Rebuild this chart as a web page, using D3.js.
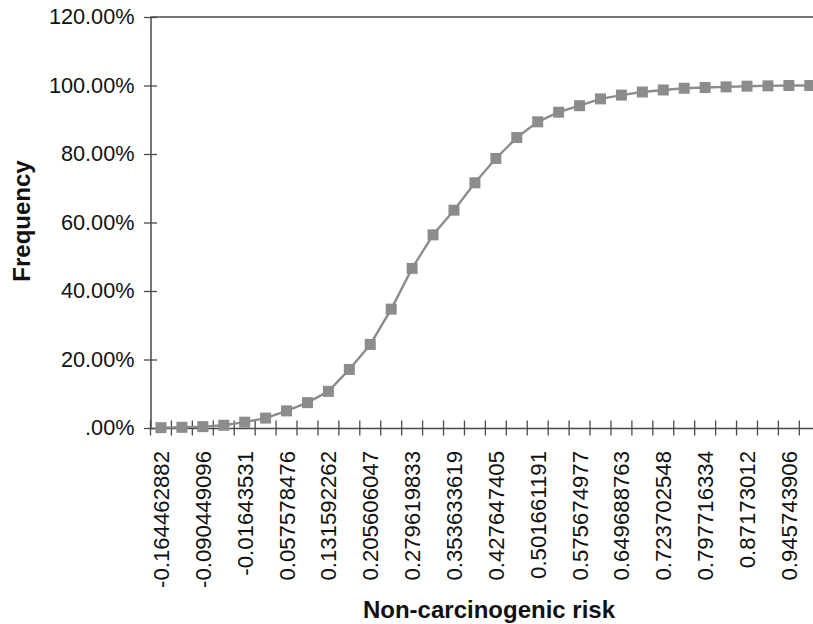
<!DOCTYPE html>
<html>
<head>
<meta charset="utf-8">
<script src="https://cdn.jsdelivr.net/npm/d3@7"></script>
<style>
  html, body { margin: 0; padding: 0; background: #fff; overflow: hidden; }
  svg { display: block; }
  text { font-family: "Liberation Sans", Arial, sans-serif; fill: #111; }
</style>
</head>
<body>
<svg id="chart" width="813" height="624"></svg>
<script>
// Category labels (risk values), one per point
const categories = [
  "-0.164462882", "-0.127455989", "-0.090449096", "-0.053442203",
  "-0.01643531", "0.020571583", "0.057578476", "0.094585369",
  "0.131592262", "0.168599155", "0.205606047", "0.24261294",
  "0.279619833", "0.316626726", "0.353633619", "0.390640512",
  "0.427647405", "0.464654298", "0.501661191", "0.538668084",
  "0.575674977", "0.61268187", "0.649688763", "0.686695656",
  "0.723702548", "0.760709441", "0.797716334", "0.834723227",
  "0.87173012", "0.908737013", "0.945743906", "0.982750799"
];
// Cumulative frequency (%)
const frequency = [
  0.1, 0.2, 0.4, 0.8, 1.7, 2.9, 5.0, 7.4, 10.7, 17.1, 24.4, 34.7,
  46.6, 56.4, 63.6, 71.6, 78.7, 84.8, 89.4, 92.2, 94.1, 96.1, 97.2, 98.1,
  98.7, 99.2, 99.4, 99.6, 99.8, 99.9, 100.0, 100.0
];
// Only every other category is labelled
const labelledCategories = categories.filter((d, i) => i % 2 === 0);
const yTicks = [0, 20, 40, 60, 80, 100, 120];

const svg = d3.select("#chart");
const plotLeft = 150.5, plotTop = 17, plotBottom = 428, step = 20.93;
const plotRight = plotLeft + categories.length * step;

const x = d3.scaleBand().domain(categories).range([plotLeft, plotRight]).padding(0);
const y = d3.scaleLinear().domain([0, 120]).range([plotBottom, plotTop]);

const axisColor = "#4a4a4a";
const seriesColor = "#8c8c8c";

// Top border line of plot area
svg.append("line")
  .attr("x1", plotLeft).attr("x2", plotRight)
  .attr("y1", y(120)).attr("y2", y(120))
  .attr("stroke", axisColor).attr("stroke-width", 1.3);

// Y axis
const yAxis = d3.axisLeft(y)
  .tickValues(yTicks)
  .tickSize(0)
  .tickPadding(16)
  .tickFormat(d => d === 0 ? ".00%" : d.toFixed(2) + "%");
const gy = svg.append("g").attr("transform", `translate(${plotLeft},0)`).call(yAxis);
gy.select(".domain").attr("stroke", axisColor).attr("stroke-width", 1.5);
gy.selectAll(".tick text").attr("font-size", "21.7px").attr("fill", "#111");
gy.selectAll(".tick").append("line")
  .attr("x1", -6.5).attr("x2", 6.5)
  .attr("stroke", axisColor).attr("stroke-width", 1.3);

// X axis
const xAxis = d3.axisBottom(x)
  .tickValues(labelledCategories)
  .tickSize(0)
  .tickFormat(d => d);
const gx = svg.append("g").attr("transform", `translate(0,${plotBottom})`).call(xAxis);
gx.select(".domain").attr("stroke", axisColor).attr("stroke-width", 1.5);
gx.selectAll(".tick text")
  .attr("font-size", "22.2px")
  .attr("fill", "#111")
  .attr("text-anchor", "end")
  .attr("transform", "rotate(-90)")
  .attr("x", -23)
  .attr("y", 0)
  .attr("dy", "0.36em");

// Cross tick marks between categories
const boundaries = categories.map(c => x(c)).concat([plotRight]);
svg.append("g").selectAll("line").data(boundaries).join("line")
  .attr("x1", d => d).attr("x2", d => d)
  .attr("y1", plotBottom - 7.5).attr("y2", plotBottom + 7.5)
  .attr("stroke", axisColor).attr("stroke-width", 1.3);

// Series line
const line = d3.line()
  .x((d, i) => x(categories[i]) + x.bandwidth() / 2)
  .y(d => y(d));
svg.append("path")
  .datum(frequency)
  .attr("d", line)
  .attr("fill", "none")
  .attr("stroke", seriesColor)
  .attr("stroke-width", 2.4);

// Square markers
const m = 11;
svg.append("g").selectAll("rect").data(frequency).join("rect")
  .attr("x", (d, i) => x(categories[i]) + x.bandwidth() / 2 - m / 2)
  .attr("y", d => y(d) - m / 2)
  .attr("width", m).attr("height", m)
  .attr("fill", seriesColor);

// Axis titles
svg.append("text")
  .attr("x", 489).attr("y", 618)
  .attr("text-anchor", "middle")
  .attr("font-size", "24px").attr("font-weight", "bold")
  .text("Non-carcinogenic risk");

svg.append("text")
  .attr("transform", "translate(30,221) rotate(-90)")
  .attr("text-anchor", "middle")
  .attr("font-size", "24px").attr("font-weight", "bold")
  .text("Frequency");
</script>
</body>
</html>
